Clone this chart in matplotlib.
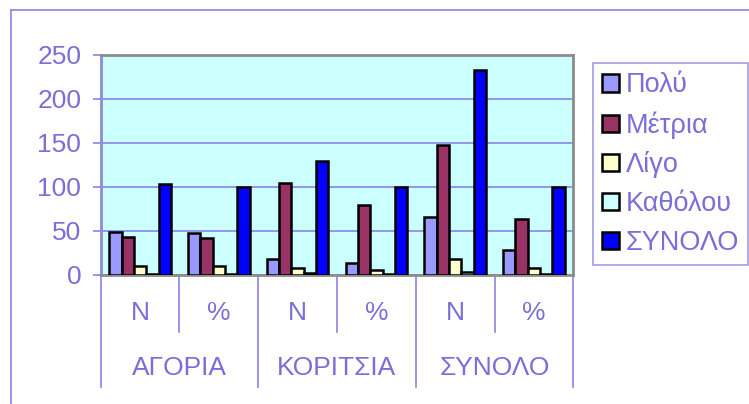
import matplotlib.pyplot as plt
from matplotlib.patches import Patch
from matplotlib.lines import Line2D

plt.rcParams['font.family'] = ['Liberation Sans', 'DejaVu Sans']

# data
groups = ["ΑΓΟΡΙΑ", "ΚΟΡΙΤΣΙΑ", "ΣΥΝΟΛΟ"]
subcats = ["N", "%", "N", "%", "N", "%"]
series = ["Πολύ", "Μέτρια", "Λίγο", "Καθόλου", "ΣΥΝΟΛΟ"]
poly = [49, 48, 18, 14, 66, 28]
metria = [43, 42, 104, 80, 147, 63]
ligo = [10, 10, 8, 6, 18, 8]
katholou = [1, 1, 2, 1, 3, 1]
synolo = [103, 100, 129, 100, 233, 100]
yticks = [0, 50, 100, 150, 200, 250]

colors = ["#9999FF", "#993366", "#FFFFCC", "#CCFFFF", "#0000FF"]
txt = "#7A6FD8"
grid_c = "#8C82E6"

W, H = 749, 404
fig = plt.figure(figsize=(W / 100, H / 100), dpi=100)
ax = fig.add_axes([100.7 / W, 1 - 275 / H, (573.3 - 100.7) / W, (275 - 54.7) / H])
ax.set_facecolor("#CCFFFF")

bw = 0.156
all_vals = [poly, metria, ligo, katholou, synolo]
for k, vals in enumerate(all_vals):
    xs = [i + 0.5 + (k - 2) * bw for i in range(len(vals))]
    ax.bar(xs, vals, width=bw, color=colors[k], edgecolor="black", linewidth=1.8, zorder=3)

ax.set_xlim(0, 6)
ax.set_ylim(0, 250)
ax.set_yticks(yticks)
ax.yaxis.grid(True, color=grid_c, linewidth=1.2, zorder=0)
ax.set_axisbelow(True)
ax.tick_params(axis="y", direction="out", length=6, width=1.2, color=grid_c,
               labelcolor=txt, labelsize=19, pad=8)
ax.set_xticks([])

for side in ["top", "right", "bottom"]:
    ax.spines[side].set_color("#8C8C8C")
    ax.spines[side].set_linewidth(2)
ax.spines["left"].set_color("#8C8CD0")
ax.spines["left"].set_linewidth(2)

# two level category axis
ah = 275 - 54.7
tr = ax.get_xaxis_transform()
for x in range(7):
    y_end = -(387 - 275) / ah if x % 2 == 0 else -(332 - 275) / ah
    ax.add_line(Line2D([x, x], [0, y_end], transform=tr, color=grid_c,
                       linewidth=1.2, clip_on=False))
for i, s in enumerate(subcats):
    ax.text(i + 0.5, -(313 - 275) / ah, s, transform=tr, ha="center", va="center",
            color=txt, fontsize=19)
for i, g in enumerate(groups):
    ax.text(2 * i + 1, -(368 - 275) / ah, g, transform=tr, ha="center", va="center",
            color=txt, fontsize=19)

# legend
handles = [Patch(facecolor=c, edgecolor="black", linewidth=1.8) for c in colors]
leg = fig.legend(handles, series, loc="upper left",
                 bbox_to_anchor=(593 / W, 1 - 63 / H), borderaxespad=0,
                 fontsize=19.5, frameon=True, fancybox=False,
                 handlelength=0.6, handleheight=0.6, handletextpad=0.25,
                 labelspacing=0.47, borderpad=0.35, labelcolor=txt)
leg.get_frame().set_edgecolor(grid_c)
leg.get_frame().set_linewidth(1.2)

# outer chart border (left and top only visible)
fig.add_artist(Line2D([10.5 / W, 10.5 / W], [0, 1 - 10 / H], color=grid_c, linewidth=1.2))
fig.add_artist(Line2D([10.5 / W, 1], [1 - 10 / H, 1 - 10 / H], color=grid_c, linewidth=1.2))

fig.savefig("out.png", dpi=100)
